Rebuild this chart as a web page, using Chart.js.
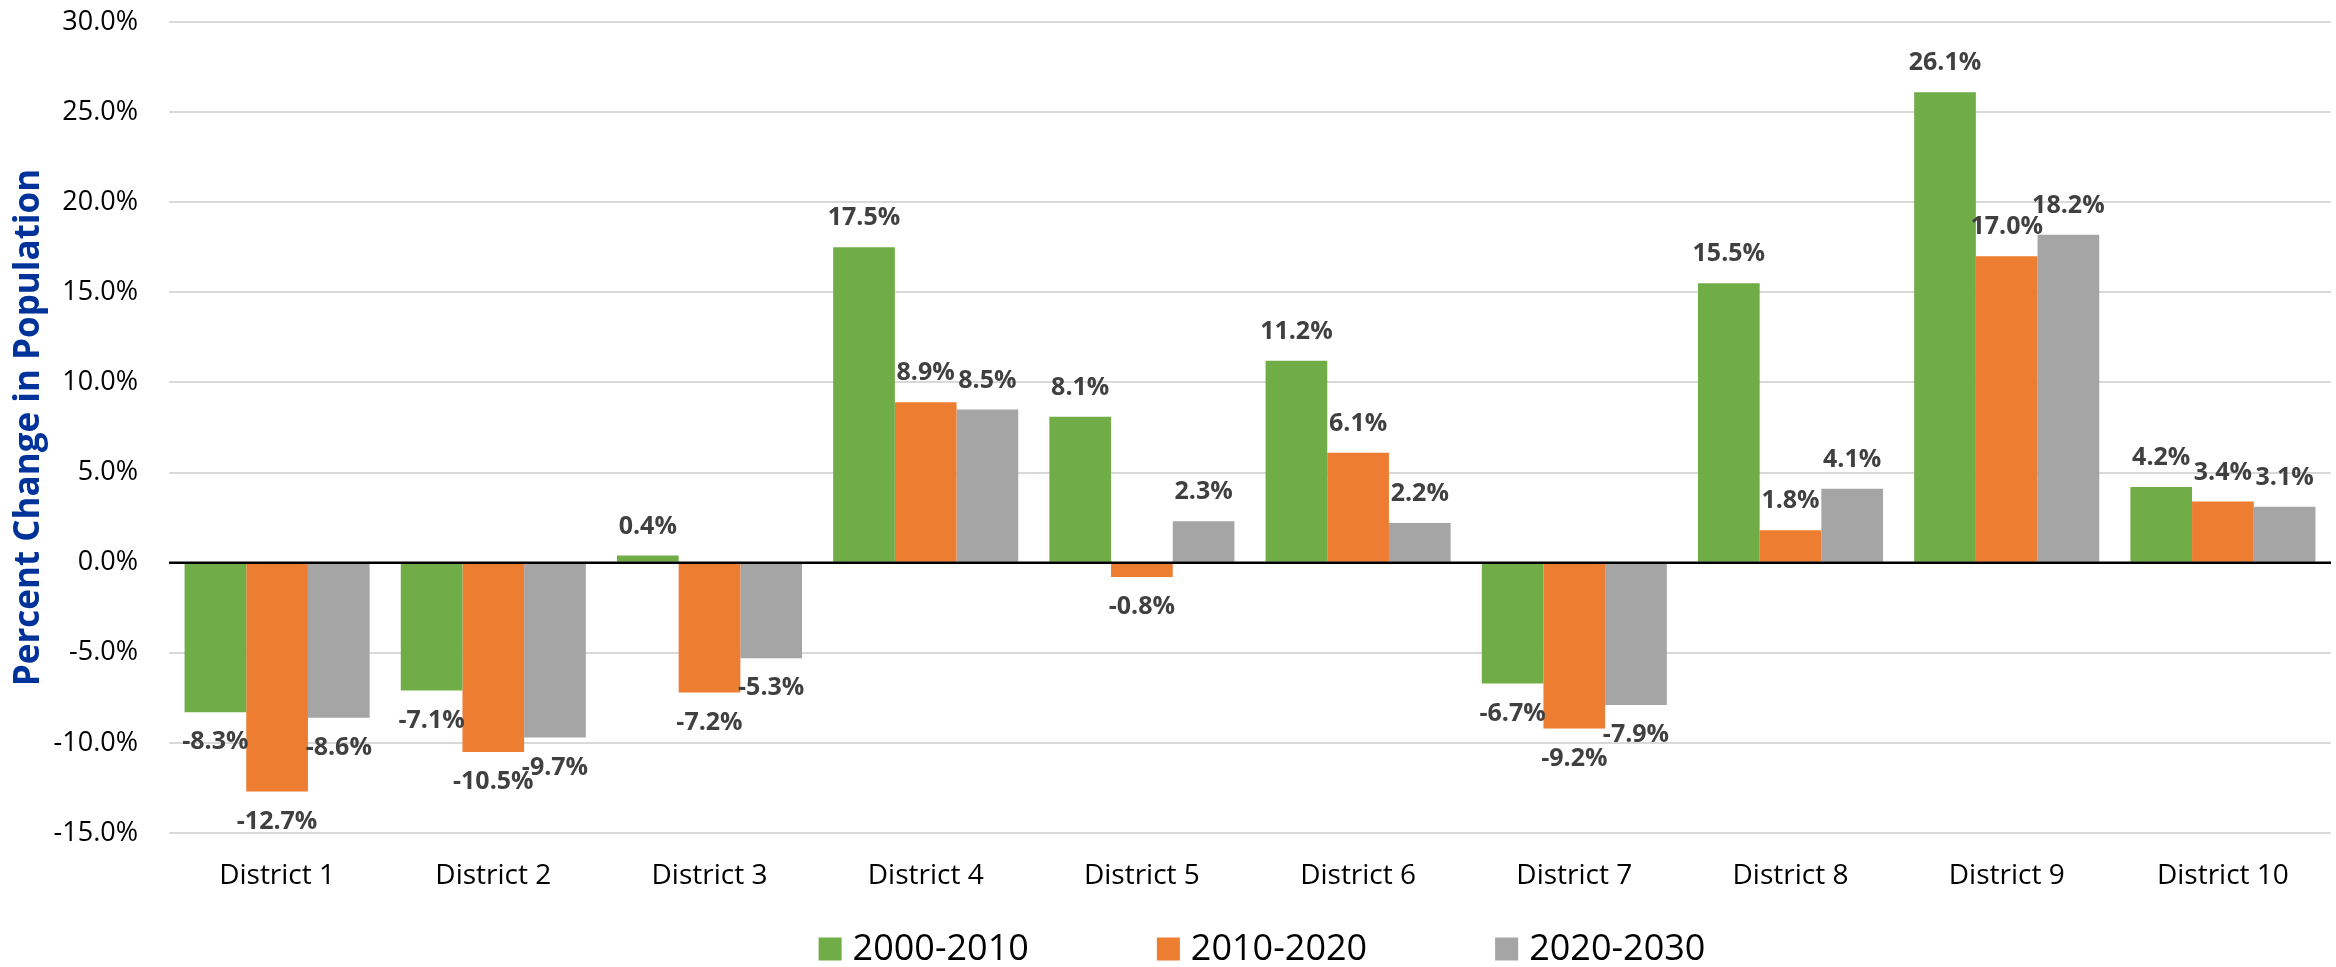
<!DOCTYPE html>
<html>
<head>
<meta charset="utf-8">
<title>Percent Change in Population by District</title>
<script src="https://cdn.jsdelivr.net/npm/chart.js@4.4.1/dist/chart.umd.min.js"></script>
<style>
  html, body { margin: 0; padding: 0; background: #fff; }
  #wrap { width: 2336px; height: 967px; position: relative; }
</style>
</head>
<body>
<div id="wrap"><canvas id="chart"></canvas></div>
<script>
const districts = ['District 1', 'District 2', 'District 3', 'District 4', 'District 5',
  'District 6', 'District 7', 'District 8', 'District 9', 'District 10'];
const change2000_2010 = [-8.3, -7.1, 0.4, 17.5, 8.1, 11.2, -6.7, 15.5, 26.1, 4.2];
const change2010_2020 = [-12.7, -10.5, -7.2, 8.9, -0.8, 6.1, -9.2, 1.8, 17.0, 3.4];
const change2020_2030 = [-8.6, -9.7, -5.3, 8.5, 2.3, 2.2, -7.9, 4.1, 18.2, 3.1];
const seriesLabels = ['2000-2010', '2010-2020', '2020-2030'];
const seriesColors = ['#70AD47', '#ED7D31', '#A5A5A5'];
const yMin = -15, yMax = 30, yStep = 5;

const FONT = "'Open Sans', 'Noto Sans', sans-serif";
const pct = v => v.toFixed(1) + '%';

// axis line at 0%, drawn over the bars like the original
const zeroLine = {
  id: 'zeroLine',
  afterDatasetsDraw(chart) {
    const { ctx, chartArea } = chart;
    const y = chart.scales.y.getPixelForValue(0);
    ctx.save();
    ctx.strokeStyle = '#000';
    ctx.lineWidth = 2.5;
    ctx.beginPath();
    ctx.moveTo(chartArea.left, y);
    ctx.lineTo(chartArea.right, y);
    ctx.stroke();
    ctx.restore();
  }
};

// value labels at the outer end of each bar
const barLabels = {
  id: 'barLabels',
  afterDatasetsDraw(chart) {
    const { ctx } = chart;
    ctx.save();
    ctx.font = 'bold 25px ' + FONT;
    ctx.fillStyle = '#404040';
    ctx.textAlign = 'center';
    ctx.textBaseline = 'middle';
    chart.data.datasets.forEach((ds, i) => {
      chart.getDatasetMeta(i).data.forEach((bar, j) => {
        const v = ds.data[j];
        const y = v >= 0 ? bar.y - 29 : bar.y + 30;
        ctx.fillText(pct(v), bar.x, y);
      });
    });
    ctx.restore();
  }
};

// legend with wide spacing under the axis labels
const wideLegend = {
  id: 'wideLegend',
  afterDraw(chart) {
    const { ctx, chartArea } = chart;
    const box = 23, gap = 11, spacing = 128, cy = 949;
    ctx.save();
    ctx.font = '36px ' + FONT;
    ctx.textBaseline = 'middle';
    ctx.textAlign = 'left';
    const items = chart.data.datasets.map(ds => ({
      text: ds.label, color: ds.backgroundColor, w: ctx.measureText(ds.label).width
    }));
    let total = items.reduce((s, it) => s + box + gap + it.w, 0) + spacing * (items.length - 1);
    let x = (chartArea.left + chartArea.right) / 2 + 12 - total / 2;
    items.forEach(it => {
      ctx.fillStyle = it.color;
      ctx.fillRect(x, cy - box / 2, box, box);
      ctx.fillStyle = '#000';
      ctx.fillText(it.text, x + box + gap, cy + 1);
      x += box + gap + it.w + spacing;
    });
    ctx.restore();
  }
};

const ctx = document.getElementById('chart').getContext('2d');
new Chart(ctx, {
  type: 'bar',
  data: {
    labels: districts,
    datasets: [
      { label: seriesLabels[0], data: change2000_2010, backgroundColor: seriesColors[0] },
      { label: seriesLabels[1], data: change2010_2020, backgroundColor: seriesColors[1] },
      { label: seriesLabels[2], data: change2020_2030, backgroundColor: seriesColors[2] }
    ]
  },
  options: {
    responsive: true,
    maintainAspectRatio: false,
    animation: false,
    layout: { padding: { top: 22, right: 5, bottom: 74, left: 0 } },
    datasets: { bar: { categoryPercentage: 0.856, barPercentage: 1.0 } },
    plugins: {
      legend: { display: false },
      tooltip: { enabled: false }
    },
    scales: {
      x: {
        grid: { display: false, drawTicks: false },
        border: { display: false },
        ticks: { color: '#000', font: { family: FONT, size: 28 }, padding: 26, maxRotation: 0 },
        afterFit(scale) { scale.height = 60; }
      },
      y: {
        min: yMin,
        max: yMax,
        grid: { color: '#D9D9D9', lineWidth: 2, drawTicks: false },
        border: { display: false },
        ticks: {
          stepSize: yStep,
          color: '#000',
          padding: 31,
          font: { family: FONT, size: 27 },
          callback: v => pct(v)
        },
        title: {
          display: true,
          text: 'Percent Change in Population',
          color: '#003399',
          font: { family: FONT, size: 35, weight: 'bold' },
          padding: { top: 8, bottom: 0 }
        },
        afterFit(scale) {
          scale.width = 169;
          scale.paddingTop = 0;
          scale.paddingBottom = 0;
        }
      }
    }
  },
  plugins: [zeroLine, barLabels, wideLegend]
});
</script>
</body>
</html>
